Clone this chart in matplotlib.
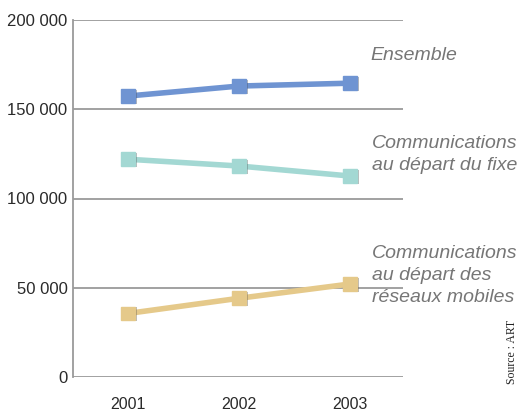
import matplotlib
matplotlib.use("Agg")
import matplotlib.pyplot as plt
import matplotlib.patheffects as pe

years = [2001, 2002, 2003]
ensemble = [157400, 163000, 164600]
fixe = [122000, 118200, 112600]
mobiles = [35600, 44100, 52100]
yticks = [0, 50000, 100000, 150000, 200000]
ytick_labels = ["0", "50 000", "100 000", "150 000", "200 000"]

series = [
    (ensemble, "#6f94d2", "Ensemble"),
    (fixe, "#a3d8d3", "Communications\nau départ du fixe"),
    (mobiles, "#e5c98a", "Communications\nau départ des\nréseaux mobiles"),
]

plt.rcParams["font.family"] = ["Liberation Sans", "DejaVu Sans"]

fig = plt.figure(figsize=(5.23, 4.12), dpi=100)
W, H = 523, 412
ax = fig.add_axes([73 / W, (H - 377) / H, (403 - 73) / W, (377 - 20) / H])
ax.set_xlim(2000.505, 2003.477)
ax.set_ylim(0, 200000)

for y in yticks:
    ax.axhline(y, color="#9a9a9a", lw=1.3, zorder=1)

for s in ("top", "right", "bottom"):
    ax.spines[s].set_visible(False)
ax.spines["left"].set_color("#9a9a9a")
ax.spines["left"].set_linewidth(1.3)

marker_shadow = [pe.SimplePatchShadow(offset=(1.5, -0.5), shadow_rgbFace="#3a3a3a", alpha=0.35), pe.Normal()]
for vals, col, _ in series:
    ax.plot(years, vals, color=col, lw=4, zorder=3, solid_capstyle="butt")
    ax.plot(years, vals, ls="none", marker="s", ms=10, mec=col, mfc=col, zorder=4,
            path_effects=marker_shadow)

ax.set_yticks(yticks)
ax.set_yticklabels(ytick_labels)
ax.set_xticks(years)
ax.set_xticklabels([str(y) for y in years])
ax.tick_params(length=0, labelsize=12, labelcolor="#2a2a2a")
ax.tick_params(axis="y", pad=4)
ax.tick_params(axis="x", pad=14.5, labelsize=11.5)

# Series labels on the right
lab_kw = dict(transform=fig.transFigure, style="italic", color="#767676",
              fontsize=14, ha="left", va="top", linespacing=1.38)
fig.text(370 / W, 1 - 47 / H, series[0][2], **lab_kw)
fig.text(372 / W, 1 - 135 / H, series[1][2], **lab_kw)
fig.text(372 / W, 1 - 245 / H, series[2][2], **lab_kw)

fig.text(512 / W, 1 - 352 / H, "Source : ART", rotation=90, ha="center", va="center",
         family=["Liberation Serif", "DejaVu Serif"], fontsize=8.5, color="#222222")

fig.savefig("out.png", dpi=100)
